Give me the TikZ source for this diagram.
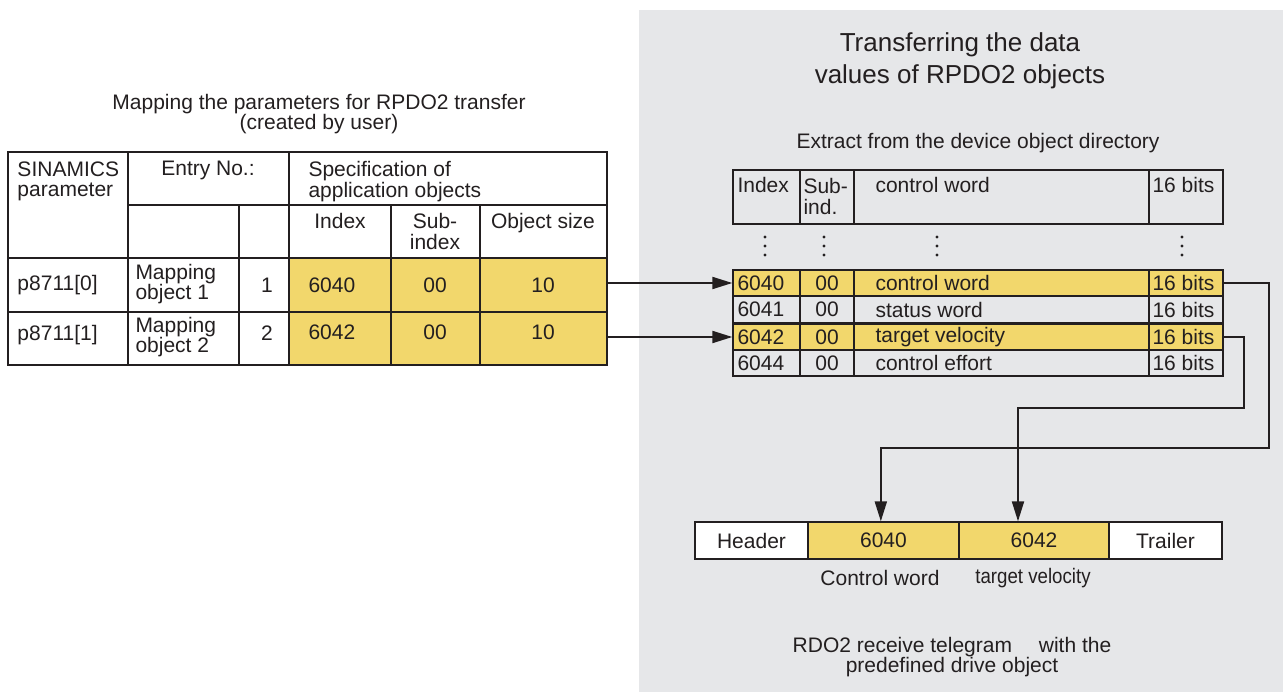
\documentclass[tikz,border=0pt]{standalone}
\usepackage{fontspec}
\setmainfont{Liberation Sans}
\usetikzlibrary{arrows.meta,fit}
\usepackage{graphicx}

\definecolor{panelgray}{RGB}{230,231,233}
\definecolor{cellyel}{RGB}{242,215,108}
\definecolor{inkc}{RGB}{35,31,32}
\newcommand{\bodyfont}{\fontsize{15.75}{15.5}\selectfont}
\newcommand{\headfont}{\fontsize{19.5}{24}\selectfont}

\tikzset{every picture/.style={line width=0.75pt}}
\tikzset{
  cell/.style={draw=inkc, line width=1pt, inner sep=0pt},
  ycell/.style={cell, fill=cellyel},
  wcell/.style={cell, fill=white},
  txt/.style={inner sep=0.75pt, font=\bodyfont, text=inkc},
  flow/.style={draw=inkc, line width=1.5pt, -{Triangle[length=15pt,width=9pt]}},
}

\begin{document}
\begin{tikzpicture}[x=0.75pt,y=0.75pt,yscale=-1,xscale=1]
\useasboundingbox (0,0) rectangle (1283,692);

%Shape: grey panel
\fill[panelgray] (639,10) rectangle (1283,692);

% Left title
\node[txt, align=center] (tmap) at (319,114) {Mapping the parameters for RPDO2 transfer\\(created by user)};

%Left table: header
\node[wcell, fit={(8,152) (128,258)}] (lsin) {};
\node[txt, anchor=north west, align=left] (tsin) at (16,160) {SINAMICS\\parameter};
\node[wcell, fit={(128,152) (289,205)}] (lent) {};
\node[txt, anchor=north] (tent) at (208,160) {Entry No.:};
\node[wcell, fit={(289,152) (607,205)}] (lspec) {};
\node[txt, anchor=north west, align=left] (tspec) at (307,160) {Specification of\\application objects};
\node[wcell, fit={(128,205) (239,258)}] (le1) {};
\node[wcell, fit={(239,205) (289,258)}] (le2) {};
\node[wcell, fit={(289,205) (391,258)}] (lidx) {};
\node[txt, anchor=north] (tidx) at (340,212) {Index};
\node[wcell, fit={(391,205) (480,258)}] (lsub) {};
\node[txt, anchor=north, align=center] (tsub) at (435,212) {Sub-\\index};
\node[wcell, fit={(480,205) (607,258)}] (lsz) {};
\node[txt, anchor=north] (tsz) at (543,212) {Object size};

%Left table: row 1
\node[wcell, fit={(8,258) (128,312)}] (lp1) {};
\node[txt, anchor=west] (tp1) at (16,285) {p8711[0]};
\node[wcell, fit={(128,258) (239,312)}] (lm1) {};
\node[txt, anchor=west, align=left] (tm1) at (134,284) {Mapping\\object 1};
\node[wcell, fit={(239,258) (289,312)}] (ln1) {};
\node[txt] (tn1) at (267,285) {1};
\node[ycell, fit={(289,258) (391,312)}] (lidx1) {};
\node[txt, anchor=west] (tidx1) at (307,285) {6040};
\node[ycell, fit={(391,258) (480,312)}] (lsub1) {};
\node[txt] (tsub1) at (435,285) {00};
\node[ycell, fit={(480,258) (607,312)}] (lsz1) {};
\node[txt] (tsz1) at (543,285) {10};

%Left table: row 2
\node[wcell, fit={(8,312) (128,365)}] (lp2) {};
\node[txt, anchor=west] (tp2) at (16,335) {p8711[1]};
\node[wcell, fit={(128,312) (239,365)}] (lm2) {};
\node[txt, anchor=west, align=left] (tm2) at (134,337) {Mapping\\object 2};
\node[wcell, fit={(239,312) (289,365)}] (ln2) {};
\node[txt] (tn2) at (267,333) {2};
\node[ycell, fit={(289,312) (391,365)}] (lidx2) {};
\node[txt, anchor=west] (tidx2) at (307,332) {6042};
\node[ycell, fit={(391,312) (480,365)}] (lsub2) {};
\node[txt] (tsub2) at (435,332) {00};
\node[ycell, fit={(480,312) (607,365)}] (lsz2) {};
\node[txt] (tsz2) at (543,332) {10};

% Right titles
\node[txt, align=center, font=\headfont] (ttrans) at (960,61) {Transferring the data\\values of RPDO2 objects};
\node[txt] (textr) at (978,143) {Extract from the device object directory};

%Right table: header
\node[cell, fit={(733,170) (800,224)}] (rih) {};
\node[txt, anchor=west] (trih) at (736,185) {Index};
\node[cell, fit={(800,170) (854,224)}] (rsh) {};
\node[txt, anchor=north west, align=left] (trsh) at (802,177) {Sub-\\ind.};
\node[cell, fit={(854,170) (1149,224)}] (rnh) {};
\node[txt, anchor=west] (trnh) at (874,185) {control word};
\node[cell, fit={(1149,170) (1223,224)}] (rbh) {};
\node[txt, anchor=west] (trbh) at (1151,185) {16 bits};

% dots
\foreach \x in {765,824,937,1182}
  \foreach \y in {237,246,255}
    \fill[inkc] (\x,\y) circle (1.7);

%Right table: rows
\node[ycell, fit={(733,270) (800,296)}] (ri1) {};
\node[txt, anchor=west] (tri1) at (736,283) {6040};
\node[ycell, fit={(800,270) (854,296)}] (rs1) {};
\node[txt] (trs1) at (827,283) {00};
\node[ycell, fit={(854,270) (1149,296)}] (rn1) {};
\node[txt, anchor=west] (trn1) at (874,283) {control word};
\node[ycell, fit={(1149,270) (1223,296)}] (rb1) {};
\node[txt, anchor=west] (trb1) at (1151,283) {16 bits};

\node[cell, fit={(733,296) (800,323)}] (ri2) {};
\node[txt, anchor=west] (tri2) at (736,309.5) {6041};
\node[cell, fit={(800,296) (854,323)}] (rs2) {};
\node[txt] (trs2) at (827,309.5) {00};
\node[cell, fit={(854,296) (1149,323)}] (rn2) {};
\node[txt, anchor=west] (trn2) at (874,309.5) {status word};
\node[cell, fit={(1149,296) (1223,323)}] (rb2) {};
\node[txt, anchor=west] (trb2) at (1151,309.5) {16 bits};

\node[ycell, fit={(733,324) (800,350)}] (ri3) {};
\node[txt, anchor=west] (tri3) at (736,337) {6042};
\node[ycell, fit={(800,324) (854,350)}] (rs3) {};
\node[txt] (trs3) at (827,337) {00};
\node[ycell, fit={(854,324) (1149,350)}] (rn3) {};
\node[txt, anchor=west] (trn3) at (874,337) {target velocity};
\node[ycell, fit={(1149,324) (1223,350)}] (rb3) {};
\node[txt, anchor=west] (trb3) at (1151,337) {16 bits};

\node[cell, fit={(733,350) (800,376)}] (ri4) {};
\node[txt, anchor=west] (tri4) at (736,363) {6044};
\node[cell, fit={(800,350) (854,376)}] (rs4) {};
\node[txt] (trs4) at (827,363) {00};
\node[cell, fit={(854,350) (1149,376)}] (rn4) {};
\node[txt, anchor=west] (trn4) at (874,363) {control effort};
\node[cell, fit={(1149,350) (1223,376)}] (rb4) {};
\node[txt, anchor=west] (trb4) at (1151,363) {16 bits};

%Telegram
\node[wcell, fit={(695,522) (808,559)}] (tgh) {};
\node[txt] (ttgh) at (tgh.center) {Header};
\node[ycell, fit={(808,522) (959,559)}] (tg1) {};
\node[txt] (ttg1) at (tg1.center) {6040};
\node[ycell, fit={(959,522) (1109,559)}] (tg2) {};
\node[txt] (ttg2) at (tg2.center) {6042};
\node[wcell, fit={(1109,522) (1222,559)}] (tgt) {};
\node[txt] (ttgt) at (tgt.center) {Trailer};
\coordinate (tgin1) at ([xshift=-2pt]tg1.north);
\coordinate (tgin2) at ([xshift=-12pt]tg2.north);

\node[txt] (lcw) at (880,578) {Control word};
\node[txt] (ltv) at (1033,578) {\scalebox{0.89}[1]{target velocity}};
\node[txt, align=center] (tfoot) at (952,657) {RDO2 receive telegram\quad\ with the\\predefined drive object};

%Connectors
\draw[flow] (lsz1.east |- ri1.west) -- (ri1.west);
\draw[flow] (lsz2.east |- ri3.west) -- (ri3.west);
\draw[flow] (rb1.east) -- ++(45,0) |- (tgin1 |- 0,448) -- (tgin1);
\draw[flow] (rb3.east) -- ++(20,0) |- (tgin2 |- 0,408) -- (tgin2);

\end{tikzpicture}
\end{document}
